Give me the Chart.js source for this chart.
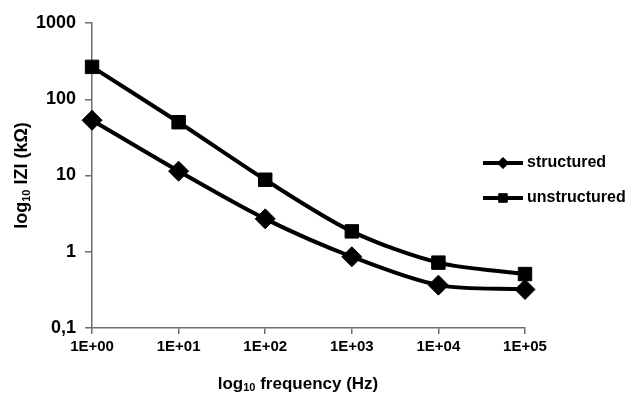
<!DOCTYPE html>
<html>
<head>
<meta charset="utf-8">
<script src="https://cdn.jsdelivr.net/npm/chart.js@4"></script>
<style>
  html, body { margin: 0; padding: 0; background: #fff; }
  #wrap { width: 632px; height: 403px; }
</style>
</head>
<body>
<div id="wrap"><canvas id="chart"></canvas></div>
<script>
// frequencies (category labels)
const frequencies = ["1E+00", "1E+01", "1E+02", "1E+03", "1E+04", "1E+05"];
// |Z| in kOhm
const structured = [53, 11.4, 2.7, 0.86, 0.365, 0.32];
const unstructured = [266, 50, 8.8, 1.85, 0.72, 0.51];
// y tick values and their labels
const yTickValues = [0.1, 1, 10, 100, 1000];
const yTickLabels = ["0,1", "1", "10", "100", "1000"];
// axis titles: [before subscript, subscript, after]
const xTitle = ["log", "10", " frequency (Hz)"];
const yTitle = ["log", "10", " IZI (kΩ)"];

const FONT = "'Liberation Sans', Arial, sans-serif";

// draws "log" + subscript "10" + rest, centred on (0,0)
function subText(ctx, parts, size) {
  const big = "bold " + size + "px " + FONT;
  const small = "bold " + Math.round(size * 0.62) + "px " + FONT;
  ctx.font = big;
  const w0 = ctx.measureText(parts[0]).width;
  const w2 = ctx.measureText(parts[2]).width;
  ctx.font = small;
  const w1 = ctx.measureText(parts[1]).width;
  let x = -(w0 + w1 + w2) / 2;
  ctx.textAlign = "left";
  ctx.textBaseline = "middle";
  ctx.font = big;
  ctx.fillText(parts[0], x, 0);
  x += w0;
  ctx.font = small;
  ctx.fillText(parts[1], x, size * 0.25);
  x += w1;
  ctx.font = big;
  ctx.fillText(parts[2], x, 0);
}

const extras = {
  id: "extras",
  afterDraw(chart) {
    const ctx = chart.ctx;
    const area = chart.chartArea;
    ctx.save();
    ctx.fillStyle = "#000";
    // x title
    ctx.save();
    ctx.translate(298, 384);
    subText(ctx, xTitle, 17);
    ctx.restore();
    // y title
    ctx.save();
    ctx.translate(22, (area.top + area.bottom) / 2);
    ctx.rotate(-Math.PI / 2);
    subText(ctx, yTitle, 18);
    ctx.restore();

    // legend drawn over the plot, like the original
    const items = [
      { ds: chart.data.datasets[0], y: 163 },
      { ds: chart.data.datasets[1], y: 198 },
    ];
    items.forEach(({ ds, y }) => {
      ctx.strokeStyle = "#000";
      ctx.lineWidth = 4;
      ctx.beginPath();
      ctx.moveTo(483, y);
      ctx.lineTo(523, y);
      ctx.stroke();
      ctx.lineWidth = 1;
      Chart.helpers.drawPoint(ctx, {
        pointStyle: ds.pointStyle,
        radius: ds.pointStyle === "rect" ? 6 : 5.5,
        borderWidth: 1,
        rotation: 0,
      }, 503, y);
      ctx.fill();
      ctx.font = "bold 16px " + FONT;
      ctx.textBaseline = "middle";
      ctx.textAlign = "left";
      ctx.fillText(ds.label, 527, y);
    });
    ctx.restore();
  },
};

new Chart(document.getElementById("chart"), {
  type: "line",
  data: {
    labels: frequencies,
    datasets: [
      {
        label: "structured",
        data: structured,
        borderColor: "#000",
        backgroundColor: "#000",
        borderWidth: 4,
        pointStyle: "rectRot",
        pointRadius: 10,
        pointBorderWidth: 1,
        tension: 0.3,
      },
      {
        label: "unstructured",
        data: unstructured,
        borderColor: "#000",
        backgroundColor: "#000",
        borderWidth: 4,
        pointStyle: "rect",
        pointRadius: 9.5,
        pointBorderWidth: 1,
        tension: 0.3,
      },
    ],
  },
  options: {
    responsive: true,
    maintainAspectRatio: false,
    animation: false,
    layout: { padding: { top: 23, right: 107, left: 27, bottom: 43 } },
    plugins: {
      legend: { display: false },
      tooltip: { enabled: false },
    },
    scales: {
      x: {
        type: "category",
        offset: false,
        grid: { display: true, drawOnChartArea: false, color: "#6e6e6e", tickLength: 6, lineWidth: 1.5 },
        border: { color: "#6e6e6e", width: 1.5 },
        ticks: { color: "#000", font: { family: FONT, size: 15, weight: "bold" }, padding: 4, maxRotation: 0 },
        title: { display: false },
      },
      y: {
        type: "logarithmic",
        min: 0.1,
        max: 1000,
        afterBuildTicks(axis) {
          axis.ticks = yTickValues.map((v) => ({ value: v }));
        },
        grid: { display: true, drawOnChartArea: false, color: "#6e6e6e", tickLength: 7, lineWidth: 1.5 },
        border: { color: "#6e6e6e", width: 1.5 },
        ticks: {
          color: "#000",
          font: { family: FONT, size: 18, weight: "bold" },
          padding: 9,
          callback: (v) => {
            const i = yTickValues.indexOf(v);
            return i >= 0 ? yTickLabels[i] : "";
          },
        },
        title: { display: false },
      },
    },
  },
  plugins: [extras],
});
</script>
</body>
</html>
